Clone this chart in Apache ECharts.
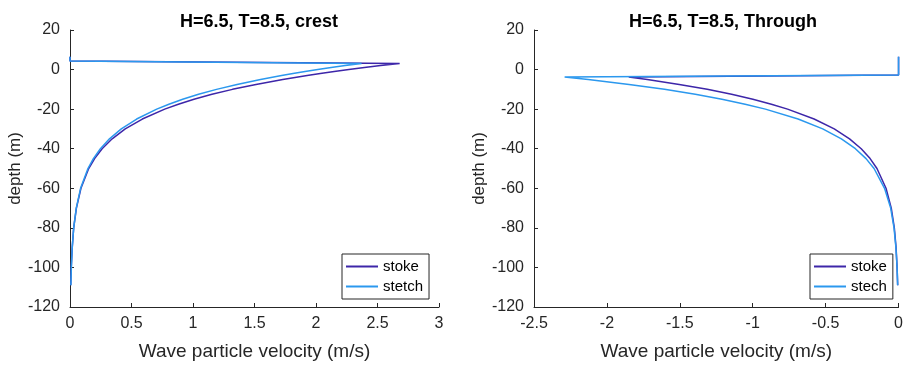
<!DOCTYPE html>
<html><head><meta charset="utf-8">
<script src="https://cdn.jsdelivr.net/npm/echarts@6/dist/echarts.min.js"></script>
<style>html,body{margin:0;padding:0;background:#fff}#c{width:906px;height:366px}</style>
</head><body><div id="c"></div>
<script>
const crestDepth   = [6.5, 4.3, 3.1, 2, 1, 0, -1, -2, -3, -5, -7.5, -10, -12.5, -15, -17.5, -20, -25, -30, -35, -40, -45, -50, -60, -70, -80, -90, -100, -109];
const crestStoke   = [0, 0, 2.68, 2.525, 2.393, 2.267, 2.148, 2.035, 1.928, 1.730, 1.512, 1.321, 1.154, 1.008, 0.881, 0.770, 0.588, 0.449, 0.343, 0.261, 0.200, 0.152, 0.089, 0.052, 0.030, 0.018, 0.010, 0.006];
const crestStretch = [0, 0, 2.37, 2.237, 2.123, 2.014, 1.911, 1.813, 1.720, 1.549, 1.358, 1.191, 1.045, 0.916, 0.804, 0.705, 0.542, 0.417, 0.321, 0.247, 0.190, 0.146, 0.086, 0.051, 0.030, 0.018, 0.011, 0.007];
const troughDepth   = [6.5, -2.7, -3.7, -5, -7.5, -10, -12.5, -15, -17.5, -20, -25, -30, -35, -40, -45, -50, -60, -70, -80, -90, -100, -109];
const troughStoke   = [0, 0, -1.85, -1.723, -1.504, -1.312, -1.145, -0.999, -0.872, -0.761, -0.579, -0.441, -0.336, -0.256, -0.195, -0.148, -0.086, -0.050, -0.029, -0.017, -0.010, -0.006];
const troughStretch = [0, 0, -2.29, -2.128, -1.848, -1.605, -1.394, -1.211, -1.052, -0.913, -0.689, -0.520, -0.392, -0.296, -0.223, -0.168, -0.096, -0.054, -0.031, -0.018, -0.010, -0.006];
const titles = ['H=6.5, T=8.5, crest', 'H=6.5, T=8.5, Through'];
const legendLeft = ['stoke', 'stetch'];
const legendRight = ['stoke', 'stech'];

const FONT = 'Liberation Sans, Arial, Helvetica, sans-serif';
const DARK = '#3d26a9';
const LIGHT = '#2b98ee';
const pairs = (xs, ys) => xs.map((x, i) => [x, ys[i]]);

function xAx(idx, min, max) {
  return {
    gridIndex: idx, type: 'value', min: min, max: max, interval: 0.5,
    name: 'Wave particle velocity (m/s)', nameLocation: 'middle', nameGap: 35,
    nameTextStyle: {fontFamily: FONT, fontSize: 19, color: '#262626'},
    axisLine: {show: true, onZero: false, lineStyle: {color: '#262626', width: 1}},
    axisTick: {show: true, inside: true, length: 4, lineStyle: {color: '#262626'}},
    axisLabel: {fontFamily: FONT, fontSize: 16, color: '#262626', margin: 9},
    splitLine: {show: false}
  };
}
function yAx(idx) {
  return {
    gridIndex: idx, type: 'value', min: -120, max: 20, interval: 20,
    name: 'depth (m)', nameLocation: 'middle', nameGap: 43, nameRotate: 90,
    nameTextStyle: {fontFamily: FONT, fontSize: 17, color: '#262626'},
    axisLine: {show: true, onZero: false, lineStyle: {color: '#262626', width: 1}},
    axisTick: {show: true, inside: true, length: 4, lineStyle: {color: '#262626'}},
    axisLabel: {fontFamily: FONT, fontSize: 16, color: '#262626', margin: 10},
    splitLine: {show: false}
  };
}
function ser(name, idx, data, color, z) {
  return {
    name: name, type: 'line', xAxisIndex: idx, yAxisIndex: idx, data: data,
    showSymbol: false, symbol: 'none', clip: false, z: z,
    lineStyle: {color: color, width: 1.5}, itemStyle: {color: color}
  };
}
function leg(left, names) {
  return {
    orient: 'vertical', left: left, top: 254, padding: [5, 6, 5, 4],
    itemWidth: 32, itemHeight: 2, itemGap: 5, icon: 'rect',
    borderColor: '#262626', borderWidth: 1, backgroundColor: '#fff',
    textStyle: {fontFamily: FONT, fontSize: 15, color: '#000'},
    data: names, selectedMode: false
  };
}

const chart = echarts.init(document.getElementById('c'), null, {renderer: 'canvas'});
chart.setOption({
  animation: false,
  backgroundColor: '#fff',
  title: [
    {text: titles[0], left: 254, top: 8, textAlign: 'center', textStyle: {fontFamily: FONT, fontSize: 18, fontWeight: 'bold', color: '#000'}},
    {text: titles[1], left: 718, top: 8, textAlign: 'center', textStyle: {fontFamily: FONT, fontSize: 18, fontWeight: 'bold', color: '#000'}}
  ],
  grid: [
    {left: 70, top: 30, width: 369, height: 279},
    {left: 534, top: 30, width: 368, height: 279}
  ],
  xAxis: [xAx(0, 0, 3), xAx(1, -2.5, 0)],
  yAxis: [yAx(0), yAx(1)],
  legend: [leg(342, legendLeft), leg(810, legendRight)],
  series: [
    ser(legendLeft[0], 0, pairs(crestStoke, crestDepth), DARK, 2),
    ser(legendLeft[1], 0, pairs(crestStretch, crestDepth), LIGHT, 3),
    ser(legendRight[0], 1, pairs(troughStoke, troughDepth), DARK, 2),
    ser(legendRight[1], 1, pairs(troughStretch, troughDepth), LIGHT, 3)
  ]
});
</script></body></html>
